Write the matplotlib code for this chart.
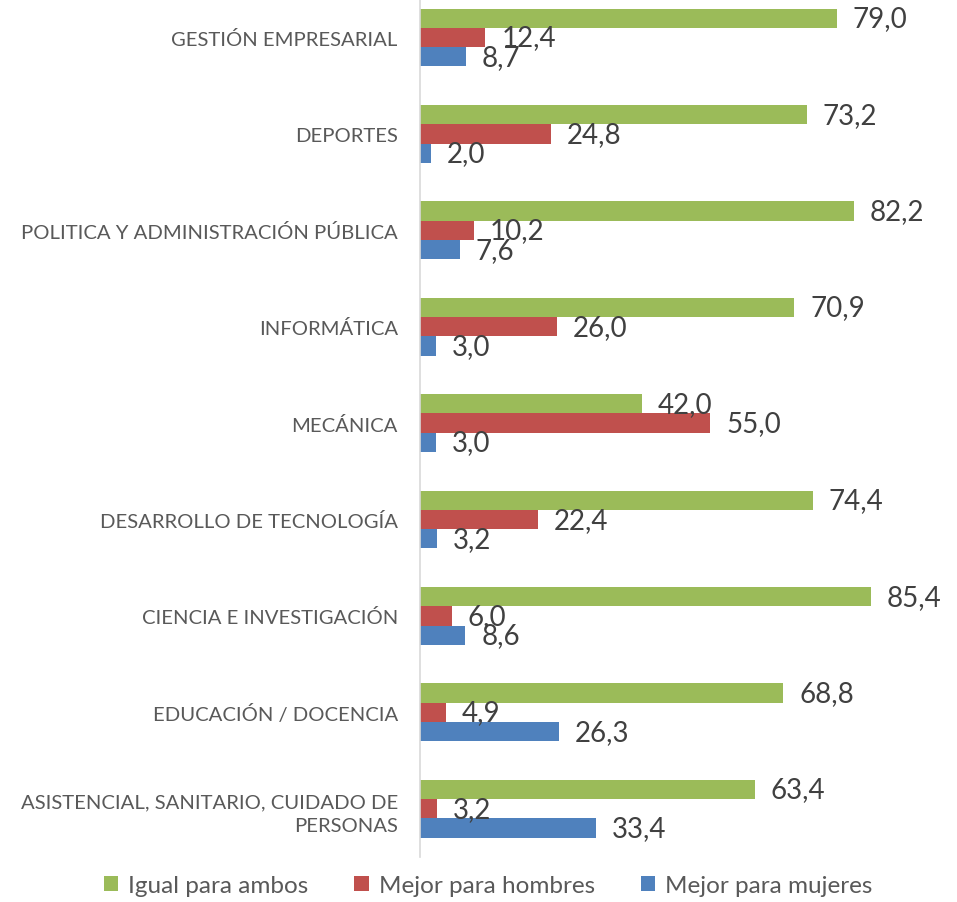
import numpy as np
import matplotlib.pyplot as plt

plt.rcParams['font.family'] = ['Lato', 'DejaVu Sans']

# categories from top to bottom
categories = [
    "GESTIÓN EMPRESARIAL",
    "DEPORTES",
    "POLITICA Y ADMINISTRACIÓN PÚBLICA",
    "INFORMÁTICA",
    "MECÁNICA",
    "DESARROLLO DE TECNOLOGÍA",
    "CIENCIA E INVESTIGACIÓN",
    "EDUCACIÓN / DOCENCIA",
    "ASISTENCIAL, SANITARIO, CUIDADO DE\nPERSONAS",
]
igual = [79.0, 73.2, 82.2, 70.9, 42.0, 74.4, 85.4, 68.8, 63.4]
hombres = [12.4, 24.8, 10.2, 26.0, 55.0, 22.4, 6.0, 4.9, 3.2]
mujeres = [8.7, 2.0, 7.6, 3.0, 3.0, 3.2, 8.6, 26.3, 33.4]

series = [
    ("Igual para ambos", igual, "#9BBB59"),
    ("Mejor para hombres", hombres, "#C0504D"),
    ("Mejor para mujeres", mujeres, "#4F81BD"),
]

fig = plt.figure(figsize=(9.57, 9.03), dpi=100)
ax = fig.add_axes([0.4389, 0.0498, 0.5517, 0.961])

y = np.arange(len(categories))
h = 0.2
for k, (name, vals, col) in enumerate(series):
    pos = y + (k - 1) * h
    ax.barh(pos, vals, height=h, color=col, label=name, edgecolor='none')
    for yy, v in zip(pos, vals):
        ax.text(v + 3.0, yy, f"{v:.1f}".replace('.', ','), va='center', ha='left',
                fontsize=20, color='#404040')

ax.set_ylim(len(categories) - 0.5, -0.5)
ax.set_xlim(0, 100)
ax.set_yticks(y)
ax.set_yticklabels(categories, fontsize=14.6, color='#595959', linespacing=1.45)
ax.tick_params(axis='y', length=0, pad=16)
ax.set_xticks([])
for s in ['top', 'right', 'bottom']:
    ax.spines[s].set_visible(False)
ax.spines['left'].set_color('#D9D9D9')
ax.spines['left'].set_linewidth(1.2)

fig.legend(loc='center', bbox_to_anchor=(0.51, 0.018), ncol=3, frameon=False,
           fontsize=17.5, handlelength=0.6, handleheight=0.6, columnspacing=1.9,
           handletextpad=0.4, labelcolor='#595959')

fig.savefig("out.png", dpi=100)
